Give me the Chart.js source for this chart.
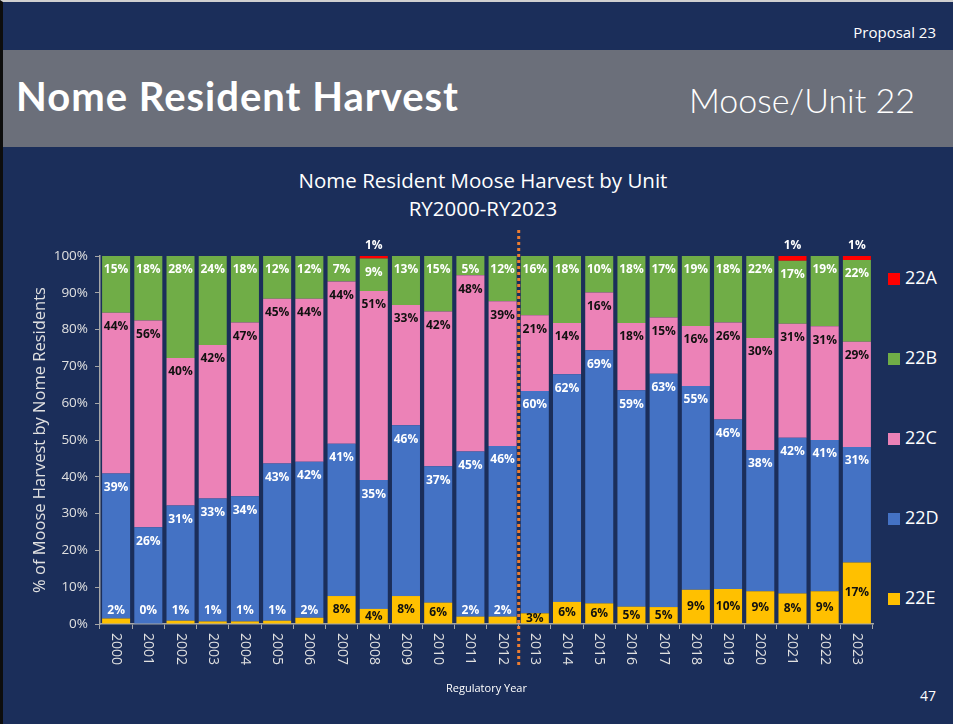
<!DOCTYPE html>
<html>
<head>
<meta charset="utf-8">
<script src="https://cdn.jsdelivr.net/npm/chart.js@4.4.0/dist/chart.umd.min.js"></script>
<style>
  body { margin: 0; background: #fff; }
  #slide { position: relative; width: 953px; height: 724px; background: #1B2E5A; overflow: hidden;
           border-left: 3px solid #0d0d0d; border-top: 2px solid #d0d0d0; box-sizing: border-box; }
  #band { position: absolute; left: 0; top: 48px; width: 953px; height: 97px; background: #6B6F7A; }
  #title { position: absolute; left: 13px; top: 70px; font: bold 40px Lato, sans-serif; color: #fff; letter-spacing: 1px; }
  #subtitle { position: absolute; right: 38px; top: 77px; font: 300 34px Lato, sans-serif; color: #fff; }
  #proposal { position: absolute; right: 17px; top: 20px; font: 15px "Open Sans", sans-serif; color: #fff; }
  #chartTitle { position: absolute; left: 0; width: 960px; top: 164px; text-align: center;
                font: 20.5px "Open Sans", sans-serif; color: #fff; line-height: 28px; }
  #pageNum { position: absolute; left: 917px; top: 684px; font: 14px "Open Sans", sans-serif; color: #fff; }
  #legend { position: absolute; left: 885px; top: 263px; }
  .item { height: 80px; font: 18px "Open Sans", sans-serif; color: #fff; }
  .item span { display: inline-block; width: 12px; height: 12px; margin-right: 5px; vertical-align: -1px; }
  #wrap { position: absolute; left: -3px; top: 228px; width: 880px; height: 470px; }
</style>
</head>
<body>
<div id="slide">
  <div id="proposal">Proposal 23</div>
  <div id="band"></div>
  <div id="title">Nome Resident Harvest</div>
  <div id="subtitle">Moose/Unit 22</div>
  <div id="chartTitle">Nome Resident Moose Harvest by Unit<br>RY2000-RY2023</div>
  <div id="wrap"><canvas id="harvestChart"></canvas></div>
  <div id="legend"></div>
  <div id="pageNum">47</div>
</div>
<script>
// Data (percent of Nome resident moose harvest by unit)
const years = ['2000', '2001', '2002', '2003', '2004', '2005', '2006', '2007', '2008', '2009', '2010', '2011',
               '2012', '2013', '2014', '2015', '2016', '2017', '2018', '2019', '2020', '2021', '2022', '2023'];
const unit22E = [1.5, 0, 0.9, 0.7, 0.7, 0.9, 1.7, 7.6, 4.1, 7.6, 5.8, 2.0,
                 2.0, 2.9, 6.0, 5.6, 4.7, 4.6, 9.3, 9.5, 8.9, 8.3, 8.9, 16.7];
const unit22D = [39.4, 26.3, 31.3, 33.4, 34.0, 42.7, 42.4, 41.4, 35.0, 46.4, 37.1, 44.9,
                 46.4, 60.4, 61.9, 68.8, 58.8, 63.4, 55.4, 46.1, 38.4, 42.3, 41.1, 31.4];
const unit22C = [43.7, 56.2, 40.1, 41.7, 47.2, 44.8, 44.3, 44.1, 51.4, 32.7, 42.0, 47.9,
                 39.3, 20.6, 13.9, 15.7, 18.3, 15.3, 16.3, 26.3, 30.4, 31.0, 30.9, 28.6];
const unit22B = [15.4, 17.5, 27.7, 24.2, 18.1, 11.6, 11.6, 6.9, 8.8, 13.3, 15.1, 5.2,
                 12.3, 16.1, 18.2, 9.9, 18.2, 16.7, 19.0, 18.1, 22.3, 17.1, 19.1, 22.2];
const unit22A = [null, null, null, null, null, null, null, null, 0.7, null, null, null,
                 null, null, null, null, null, null, null, null, null, 1.3, null, 1.1];
const yTicks = [0, 10, 20, 30, 40, 50, 60, 70, 80, 90, 100];
const splitYears = ['2012', '2013'];

// Styles
const colors = { '22A': '#FF0000', '22B': '#70AD47', '22C': '#EC82B7', '22D': '#4472C4', '22E': '#FFC000' };
const labelColors = { '22A': '#fff', '22B': '#fff', '22C': '#111', '22D': '#fff', '22E': '#111' };
const axisColor = '#A6A6A6';
const textColor = '#E0E0E0';

// Chart plugins
const barLabels = {
    id: 'barLabels',
    afterDatasetsDraw(chart) {
        const ctx = chart.ctx;
        const area = chart.chartArea;
        ctx.save();
        ctx.font = 'bold 12px "Open Sans"';
        ctx.textAlign = 'center';
        ctx.textBaseline = 'middle';
        chart.data.datasets.forEach((ds, di) => {
            chart.getDatasetMeta(di).data.forEach((bar, i) => {
                const v = ds.data[i];
                if (v === null) return;
                let y = bar.y + 14;
                let color = labelColors[ds.label];
                if (ds.label === '22A') {
                    y = area.top - 10;
                } else if (ds.label === '22E') {
                    if (v < 2.5) {
                        y = area.bottom - 13;
                        color = '#fff';
                    } else {
                        y = (bar.y + bar.base) / 2;
                    }
                }
                ctx.fillStyle = color;
                ctx.fillText(Math.round(v) + '%', bar.x, y);
            });
        });
        ctx.restore();
    }
};

const yearLabels = {
    id: 'yearLabels',
    afterDraw(chart) {
        const ctx = chart.ctx;
        const xScale = chart.scales.x;
        ctx.save();
        ctx.font = '14px "Open Sans"';
        ctx.fillStyle = textColor;
        ctx.textAlign = 'left';
        ctx.textBaseline = 'middle';
        years.forEach((yr, i) => {
            ctx.save();
            ctx.translate(xScale.getPixelForValue(i), chart.chartArea.bottom + 9);
            ctx.rotate(Math.PI / 2);
            ctx.fillText(yr, 0, 0);
            ctx.restore();
        });
        ctx.restore();
    }
};

const splitLine = {
    id: 'splitLine',
    afterDraw(chart) {
        const ctx = chart.ctx;
        const xScale = chart.scales.x;
        const x = (xScale.getPixelForValue(years.indexOf(splitYears[0])) +
                   xScale.getPixelForValue(years.indexOf(splitYears[1]))) / 2;
        ctx.save();
        ctx.strokeStyle = '#ED7D31';
        ctx.lineWidth = 3;
        ctx.setLineDash([3, 3]);
        ctx.beginPath();
        ctx.moveTo(x, chart.chartArea.top - 32);
        ctx.lineTo(x, chart.chartArea.bottom + 44);
        ctx.stroke();
        ctx.restore();
    }
};

// Chart initial
const chartInitial = () => {
    const series = [['22E', unit22E], ['22D', unit22D], ['22C', unit22C], ['22B', unit22B], ['22A', unit22A]];
    const datasets = series.map(([name, values]) => ({
        label: name,
        data: values,
        backgroundColor: colors[name],
        borderWidth: 0,
        barPercentage: 0.87,
        categoryPercentage: 1.0
    }));

    // legend (top to bottom: 22A .. 22E)
    const legend = document.getElementById('legend');
    series.slice().reverse().forEach(([name]) => {
        const row = document.createElement('div');
        row.className = 'item';
        row.innerHTML = '<span style="background:' + colors[name] + '"></span>' + name;
        legend.appendChild(row);
    });

    new Chart(document.getElementById('harvestChart'), {
        type: 'bar',
        data: { labels: years, datasets: datasets },
        options: {
            responsive: true,
            maintainAspectRatio: false,
            animation: false,
            layout: { padding: { top: 26, right: 7, left: 0, bottom: 0 } },
            plugins: { legend: { display: false }, tooltip: { enabled: false } },
            scales: {
                x: {
                    stacked: true,
                    ticks: { display: false },
                    grid: { display: true, drawOnChartArea: false, drawTicks: true, tickLength: 5,
                            color: axisColor, offset: true },
                    border: { color: axisColor, width: 1.5 },
                    title: { display: true, text: 'Regulatory Year', color: '#fff',
                             font: { family: 'Open Sans', size: 11 }, padding: { top: 0, bottom: 5 } },
                    afterFit: (scale) => { scale.height = 76; }
                },
                y: {
                    stacked: true,
                    min: 0,
                    max: 100,
                    afterBuildTicks: (scale) => { scale.ticks = yTicks.map(v => ({ value: v })); },
                    ticks: { callback: (v) => v + '%', color: textColor, padding: 7,
                             font: { family: 'Open Sans', size: 13.5 } },
                    grid: { display: true, drawOnChartArea: false, drawTicks: true, tickLength: 5,
                            color: axisColor },
                    border: { color: axisColor, width: 1.5 },
                    title: { display: true, text: '% of Moose Harvest by Nome Residents', color: textColor,
                             font: { family: 'Open Sans', size: 16.5 }, padding: { top: 30, bottom: 0 } },
                    afterFit: (scale) => { scale.width = 100; }
                }
            }
        },
        plugins: [barLabels, yearLabels, splitLine]
    });
};

//// Executions state
window.onload = () => {
    chartInitial();
};
</script>
</body>
</html>
